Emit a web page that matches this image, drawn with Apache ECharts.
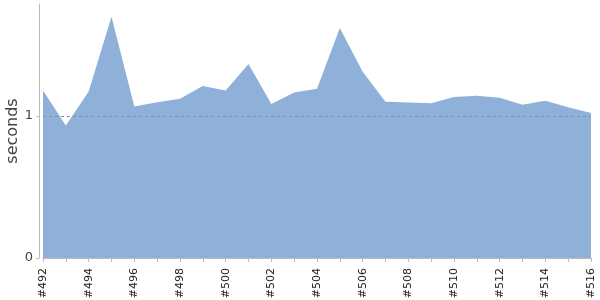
<!DOCTYPE html>
<html>
<head>
<meta charset="utf-8">
<script src="https://cdn.jsdelivr.net/npm/echarts@6/dist/echarts.min.js"></script>
<style>html,body{margin:0;padding:0;background:#fff}#c{width:600px;height:300px}</style>
</head>
<body>
<div id="c"></div>
<script>
const builds = ['#492','#493','#494','#495','#496','#497','#498','#499','#500','#501','#502','#503','#504','#505','#506','#507','#508','#509','#510','#511','#512','#513','#514','#515','#516'];
const seconds = [1.180,0.934,1.173,1.701,1.068,1.097,1.122,1.213,1.180,1.368,1.085,1.166,1.192,1.620,1.312,1.101,1.096,1.090,1.134,1.143,1.129,1.080,1.108,1.063,1.021];
const yTicks = [0, 1];
const refLine = 1;

const chart = echarts.init(document.getElementById('c'), null, {renderer: 'canvas'});
chart.setOption({
  animation: false,
  textStyle: {fontFamily: 'DejaVu Sans'},
  grid: {left: 43, right: 9, top: 4, bottom: 42, containLabel: false, outerBoundsMode: 'none'},
  xAxis: {
    type: 'category',
    data: builds,
    boundaryGap: false,
    offset: 5,
    axisLine: {lineStyle: {color: '#bbb'}},
    axisTick: {interval: 0, length: 4, lineStyle: {color: '#bbb'}},
    axisLabel: {interval: 1, rotate: 90, fontSize: 11, color: '#222', margin: 5}
  },
  yAxis: {
    type: 'value',
    min: 0, max: 1.79,
    interval: 1,
    offset: 4,
    name: 'seconds',
    nameLocation: 'middle',
    nameGap: 18,
    nameMoveOverlap: false,
    nameTextStyle: {fontSize: 16, color: '#444'},
    axisLine: {show: true, lineStyle: {color: '#bbb'}},
    axisTick: {show: true, length: 3, customValues: yTicks, lineStyle: {color: '#bbb'}},
    axisLabel: {customValues: yTicks, fontSize: 13, color: '#444', margin: 6},
    splitLine: {show: false}
  },
  series: [{
    type: 'line',
    data: seconds,
    symbol: 'none',
    lineStyle: {width: 0},
    areaStyle: {color: '#8fb0d9', opacity: 1},
    markLine: {
      silent: true,
      symbol: 'none',
      label: {show: false},
      lineStyle: {color: '#7f93ad', type: [3, 3], width: 1},
      data: [{yAxis: refLine}]
    }
  }]
});
</script>
</body>
</html>
